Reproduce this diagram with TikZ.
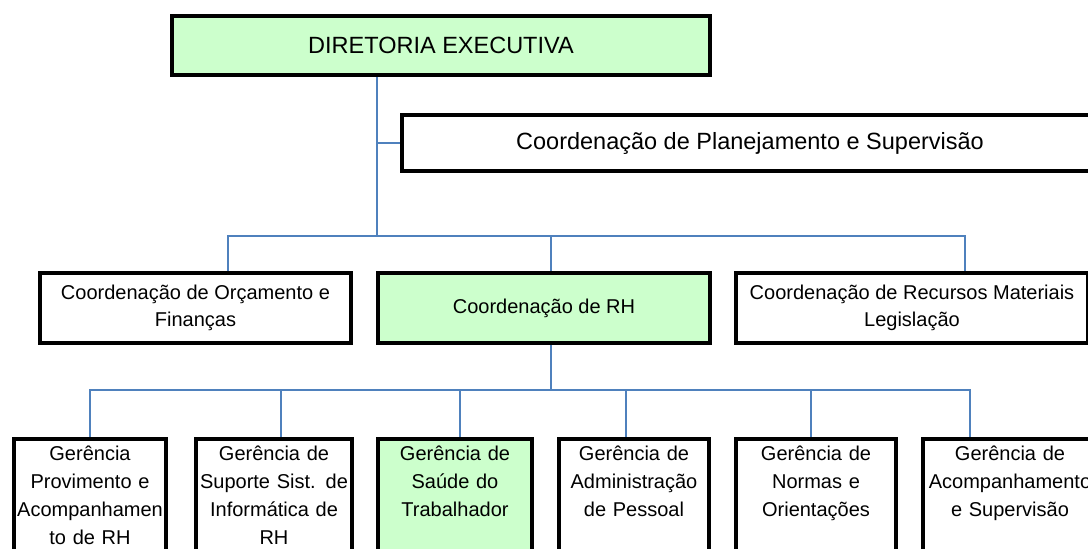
\documentclass[tikz,border=0pt]{standalone}
\usepackage{fontspec}
\setmainfont{Liberation Sans}
\definecolor{boxgreen}{RGB}{204,255,204}
\definecolor{linkblue}{RGB}{79,129,189}
\tikzstyle{unit}=[draw=black,line width=4pt,inner sep=0pt,outer sep=2pt,align=center]
\tikzstyle{link}=[draw=linkblue,line width=1.6pt]

\begin{document}
\begin{tikzpicture}[x=1pt,y=-1pt]
\tikzstyle{coord}=[unit,minimum height=70pt,font=\fontsize{20}{27.5}\selectfont]
\tikzstyle{gerencia}=[unit,anchor=north,inner ysep=5pt,text height=16pt,text depth=117pt,font=\fontsize{20}{28}\selectfont]
\useasboundingbox (0,0) rectangle (1088,549);
\clip (0,0) rectangle (1088,549);
  % top of the chart
  \node[unit,fill=boxgreen,minimum width=538pt,minimum height=59pt,font=\fontsize{23.5}{28}\selectfont] (dir) at (441,45.5) {DIRETORIA EXECUTIVA};
  \node[unit,fill=white,minimum width=696pt,minimum height=56pt,font=\fontsize{23.5}{28}\selectfont] (plan) at (750,143) {Coordenação de Planejamento e Supervisão};
  % coordinations
  \foreach \place/\boxw/\bg/\name/\txt in {{(195.5,308)/311/white/orc/{Coordenação de Orçamento e\\Finanças}},
                                          {(544,308)/332/boxgreen/rh/{Coordenação de RH}},
                                          {(912,308)/352/white/mat/{Coordenação de Recursos Materiais\\Legislação}}}
    \node[coord,fill=\bg,minimum width=\boxw pt] (\name) at \place {\txt};
  % managements
  \foreach \place/\boxw/\bg/\name/\txt in {{(90,437)/152/white/gprov/{Gerência\\Provimento e\\Acompanhamen\\to de RH}},
                                          {(274,437)/156/white/gsup/{Gerência de\\Suporte Sist. de\\Informática de\\RH}},
                                          {(455,437)/154/boxgreen/gsau/{Gerência de\\Saúde do\\Trabalhador}},
                                          {(634,437)/150/white/gadm/{Gerência de\\Administração\\de Pessoal}},
                                          {(816,437)/160/white/gnor/{Gerência de\\Normas e\\Orientações}},
                                          {(1010,437)/174/white/gacp/{Gerência de\\Acompanhamento\\e Supervisão}}}
    \node[gerencia,fill=\bg,text width=\boxw pt] (\name) at \place {\txt};
  % connectors
  \coordinate (bus1) at (377,236);
  \coordinate (bus2) at (551,390);
  \draw[link] ([xshift=-64pt]dir.south) -- (bus1);
  \draw[link] (bus1 |- plan.west) -- (plan.west);
  \foreach \dest/\dx in {orc/32.5,rh/7,mat/53}
    \draw[link] (bus1) -| ([xshift=\dx pt]\dest.north);
  \draw[link] ([xshift=7pt]rh.south) -- (bus2);
  \foreach \dest/\dx in {gprov/0,gsup/7,gsau/5,gadm/-8,gnor/-5,gacp/-40}
    \draw[link] (bus2) -| ([xshift=\dx pt]\dest.north);
\end{tikzpicture}
\end{document}
